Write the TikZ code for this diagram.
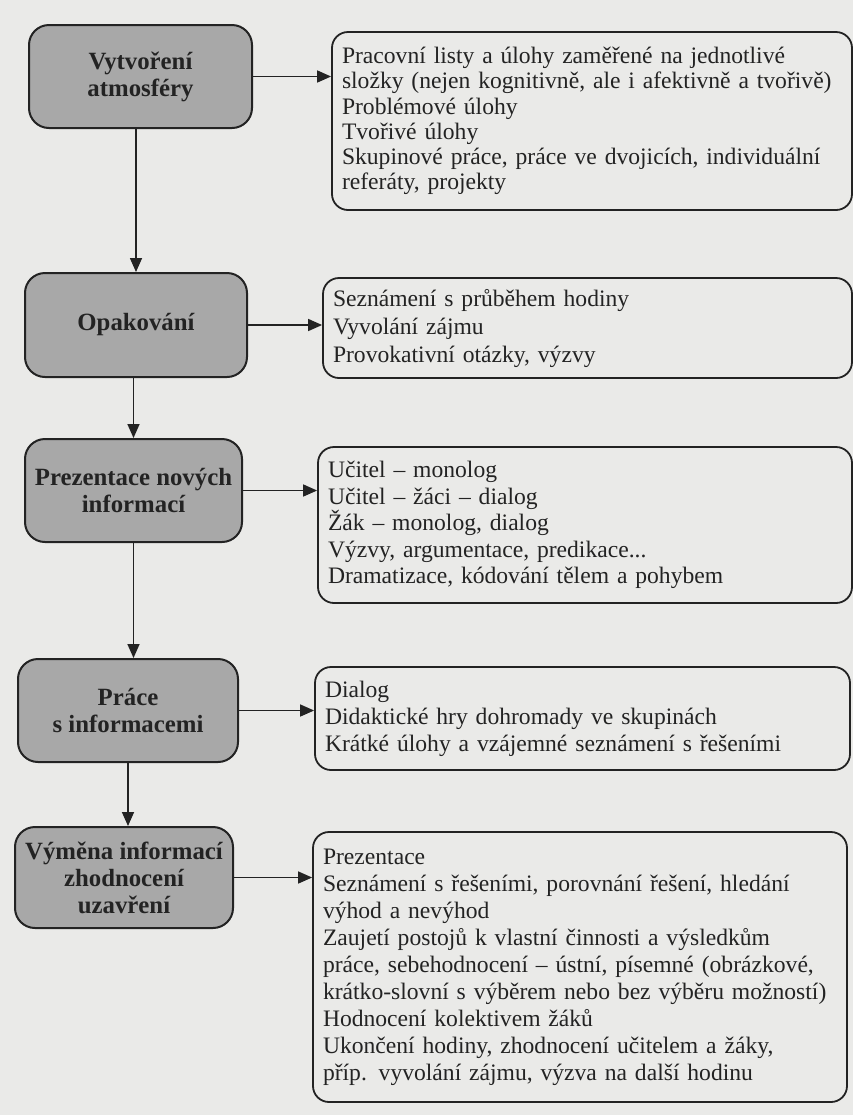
\documentclass[tikz,border=0pt]{standalone}
\usepackage{fontspec}
\setmainfont{Liberation Serif}
\usetikzlibrary{arrows.meta}
\definecolor{pagebg}{RGB}{234,234,232}
\definecolor{boxfill}{RGB}{168,168,168}
\definecolor{ink}{RGB}{35,35,35}
\begin{document}
\begin{tikzpicture}[x=0.5pt,y=-0.5pt,
  lbox/.style={draw=ink, line width=1pt, fill=boxfill, rounded corners=10pt,
    align=center, font=\fontsize{12.4}{13.5}\selectfont\bfseries, text=ink, inner sep=0pt},
  rbox/.style={draw=ink, line width=0.9pt, rounded corners=8pt, align=left,
    font=\fontsize{11.8}{13.5}\selectfont, text=ink, inner xsep=5pt, inner ysep=0pt},
  arr/.style={draw=ink, line width=0.8pt, -{Triangle[length=7pt,width=6pt]}}]
\fill[pagebg] (0,0) rectangle (853,1115);
\useasboundingbox (0,0) rectangle (853,1115);

% left column
\node[lbox, minimum width=111.5pt, minimum height=51.5pt] (L1) at (140.5,76.5) {Vytvoření\\atmosféry};
\node[lbox, minimum width=111pt, minimum height=52pt] (L2) at (136,325) {Opakování};
\node[lbox, minimum width=108.5pt, minimum height=51.5pt] (L3) at (133.5,490.5) {Prezentace nových\\informací};
\node[lbox, minimum width=110pt, minimum height=51.5pt] (L4) at (128,710.5) {Práce\\s informacemi};
\node[lbox, minimum width=109pt, minimum height=50.5pt] (L5) at (124,877.5) {Výměna informací\\zhodnocení\\uzavření};

% right column
\node[rbox, text width=250pt, minimum height=89pt, font=\fontsize{11.8}{12.6}\selectfont] (R1) at (592,121) {Pracovní listy a úlohy zaměřené na jednotlivé\\složky (nejen kognitivně, ale i afektivně a tvořivě)\\Problémové úlohy\\Tvořivé úlohy\\Skupinové práce, práce ve dvojicích, individuální\\referáty, projekty};
\node[rbox, text width=254.5pt, minimum height=50pt, font=\fontsize{11.8}{14}\selectfont] (R2) at (587.5,328) {Seznámení s průběhem hodiny\\Vyvolání zájmu\\Provokativní otázky, výzvy};
\node[rbox, text width=257pt, minimum height=78pt, font=\fontsize{11.8}{13.2}\selectfont] (R3) at (585,525) {Učitel – monolog\\Učitel – žáci – dialog\\Žák – monolog, dialog\\Výzvy, argumentace, predikace...\\Dramatizace, kódování tělem a pohybem};
\node[rbox, text width=257.5pt, minimum height=51.5pt] (R4) at (582.5,718.5) {Dialog\\Didaktické hry dohromady ve skupinách\\Krátké úlohy a vzájemné seznámení s řešeními};
\node[rbox, text width=257pt, minimum height=135pt] (R5) at (580,967) {Prezentace\\Seznámení s řešeními, porovnání řešení, hledání\\výhod a nevýhod\\Zaujetí postojů k vlastní činnosti a výsledkům\\práce, sebehodnocení – ústní, písemné (obrázkové,\\krátko-slovní s výběrem nebo bez výběru možností)\\Hodnocení kolektivem žáků\\Ukončení hodiny, zhodnocení učitelem a žáky,\\příp. vyvolání zájmu, výzva na další hodinu};

% vertical connectors
\draw[arr] (L2.north |- L1.south) -- (L2.north);
\draw[arr] (L3.north |- L2.south) -- (L3.north);
\draw[arr] (L3.south) -- (L3.south |- L4.north);
\draw[arr] (L4.south) -- (L4.south |- L5.north);

% horizontal connectors
\draw[arr] (L1.east) -- (L1.east -| R1.west);
\draw[arr] (L2.east) -- (L2.east -| R2.west);
\draw[arr] (L3.east) -- (L3.east -| R3.west);
\draw[arr] (L4.east) -- (L4.east -| R4.west);
\draw[arr] (L5.east) -- (L5.east -| R5.west);
\end{tikzpicture}
\end{document}
